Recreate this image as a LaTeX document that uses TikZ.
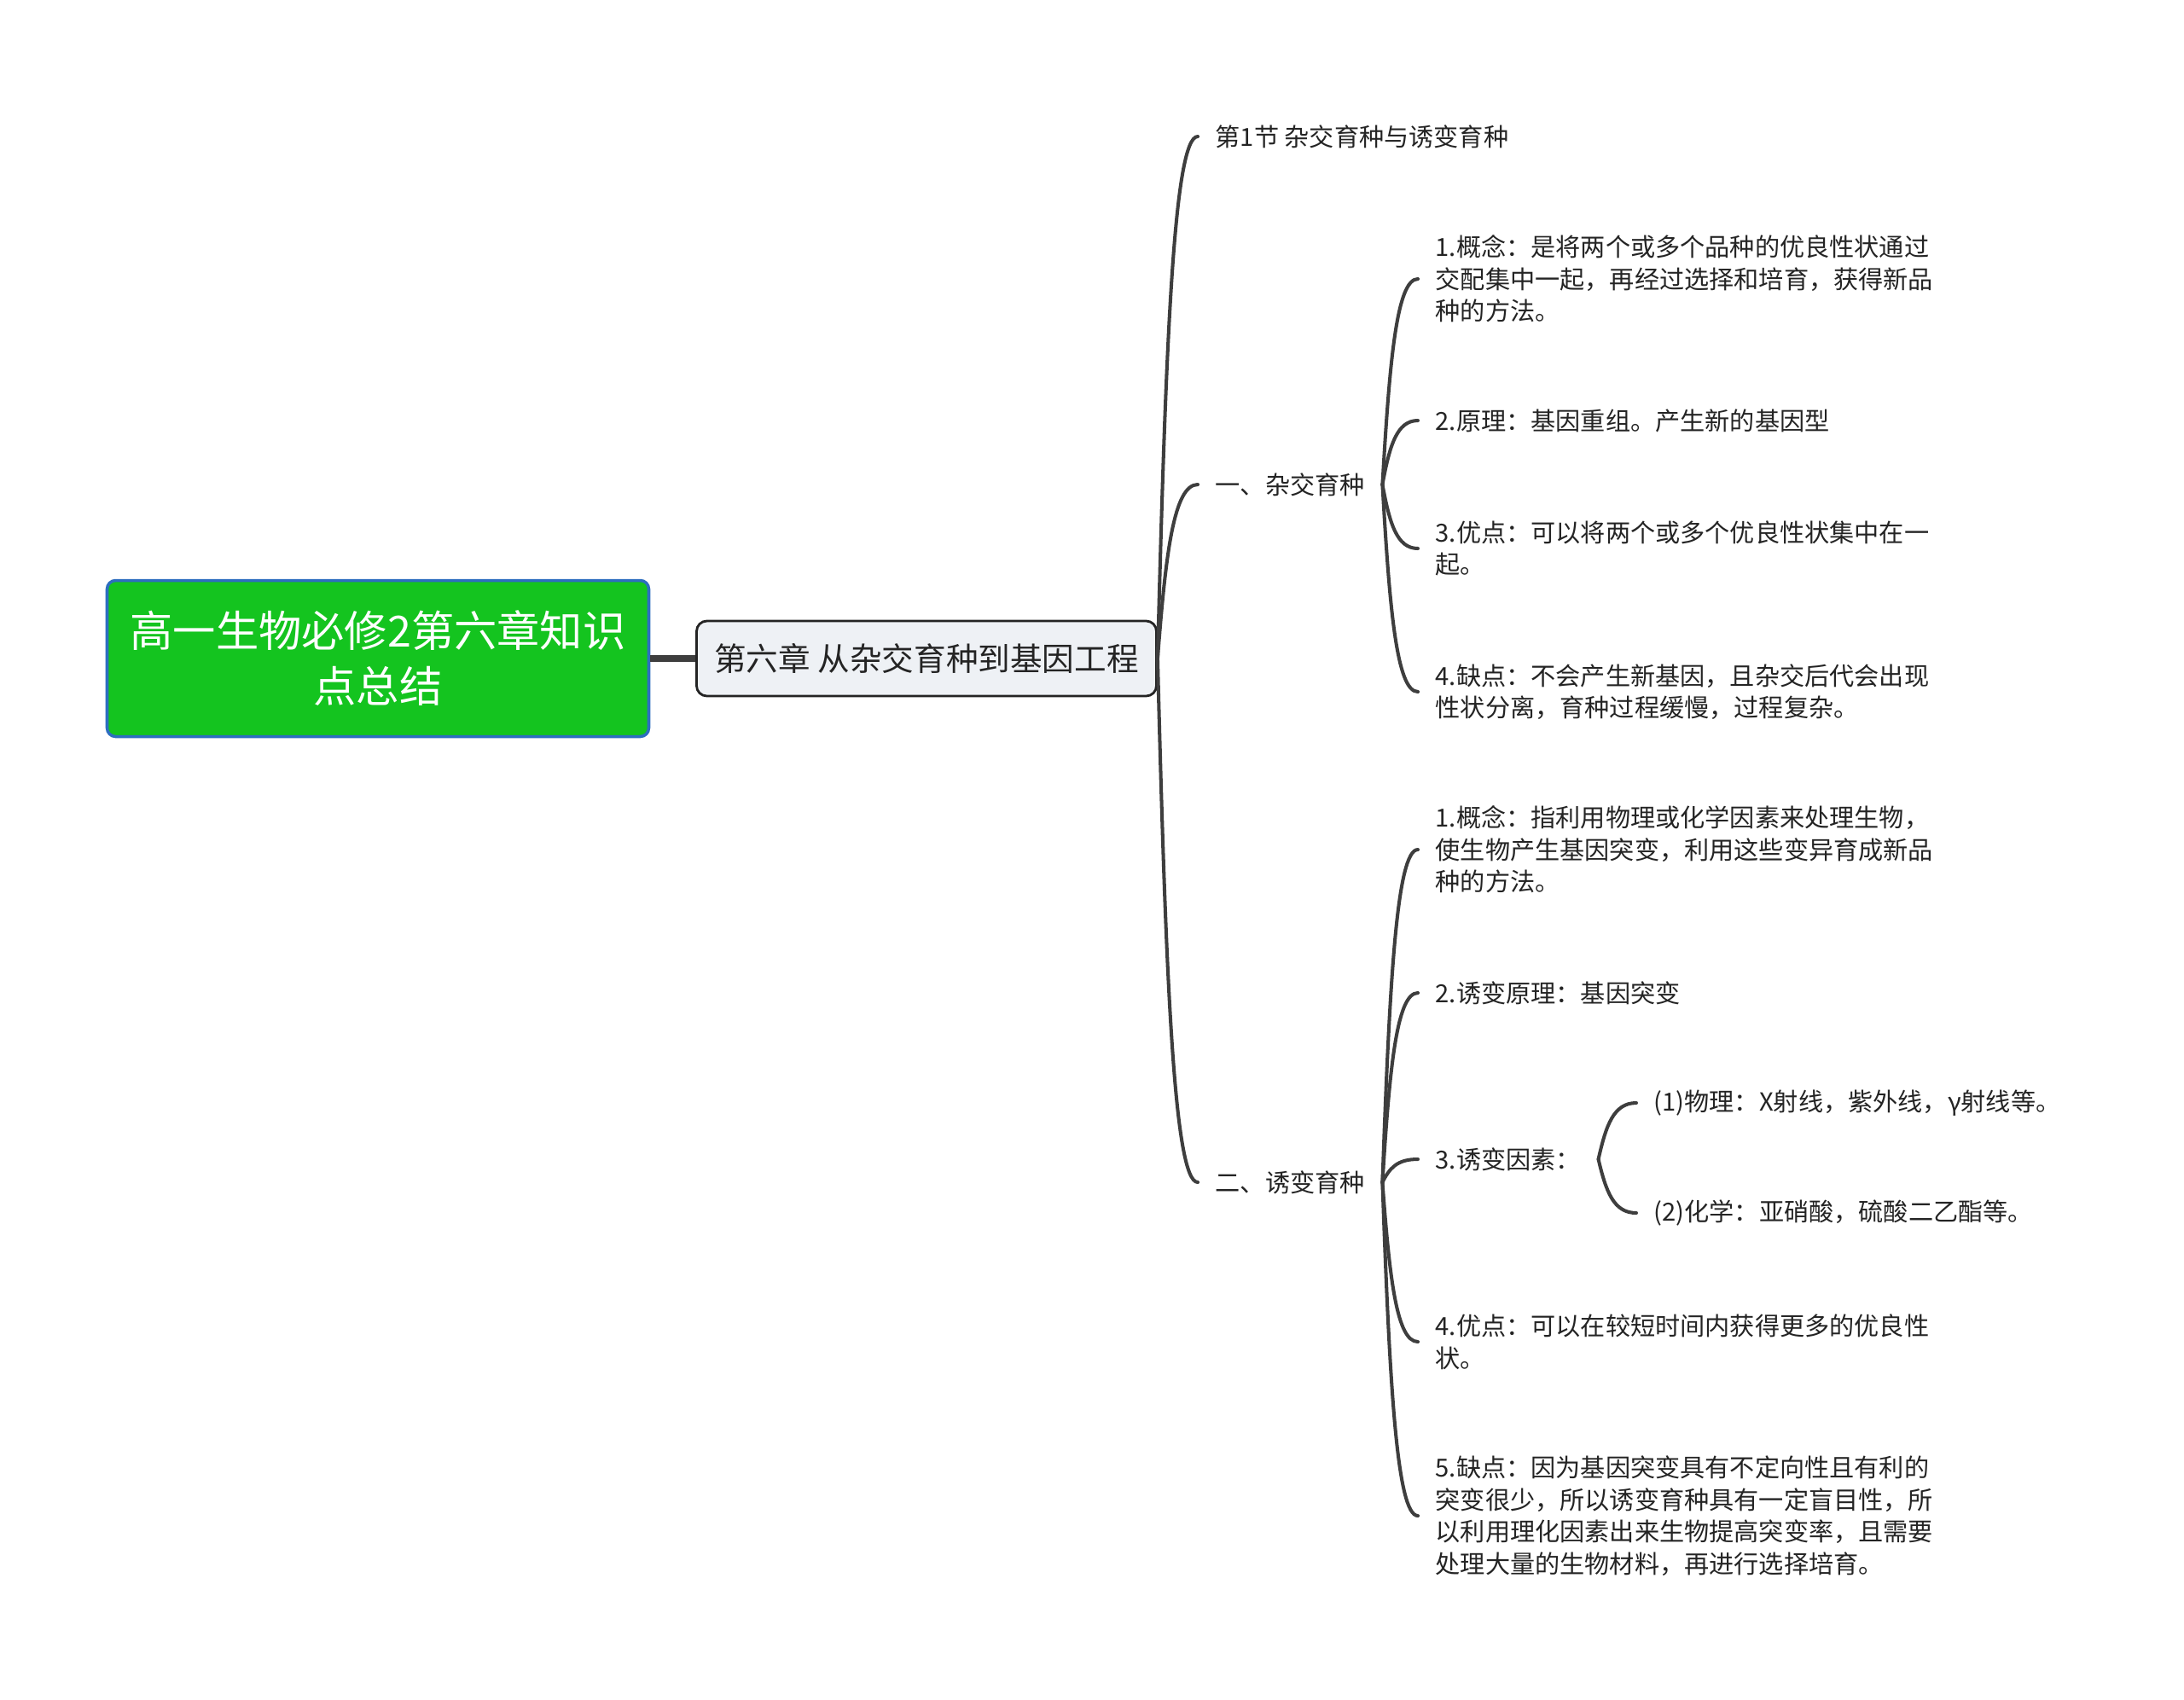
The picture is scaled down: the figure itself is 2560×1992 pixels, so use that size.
\documentclass[tikz,border=0pt]{standalone}
\usepackage{fontspec}
\setmainfont{Noto Sans CJK SC}
\usetikzlibrary{calc}
\definecolor{RootGreen}{RGB}{20,196,31}
\definecolor{RootBlue}{RGB}{45,110,192}
\definecolor{ChapFill}{RGB}{238,241,245}
\definecolor{LineGray}{RGB}{62,62,62}
\definecolor{TextDark}{RGB}{36,36,36}

\tikzset{
  rootbox/.style={draw=RootBlue, line width=1pt, fill=RootGreen, rounded corners=1mm, text=white,
    minimum width=63.5mm, minimum height=18.3mm, align=center, font=\fontsize{14.3pt}{18.5pt}\selectfont},
  chapbox/.style={draw=TextDark, line width=0.8pt, fill=ChapFill, rounded corners=1.2mm, text=TextDark,
    minimum width=53.9mm, minimum height=8.8mm, font=\fontsize{10.7pt}{13pt}\selectfont},
  topic/.style={anchor=west, inner xsep=2mm, inner ysep=0.5mm, align=left, text=TextDark,
    font=\fontsize{8.3pt}{10.7pt}\selectfont},
  branchline/.style={draw=LineGray, line width=1.15pt, line cap=round},
  trunkline/.style={draw=LineGray, line width=2.2pt}
}

% curved connector, parent to child
\newcommand{\branch}[2]{%
  \draw[branchline] let \p1=(#1), \p2=(#2) in
    (\p1) .. controls ({\x1+0.2*(\x2-\x1)},{\y1+0.6*(\y2-\y1)}) and ({\x1+0.4*(\x2-\x1)},\y2) .. (\p2);}

\begin{document}
\begin{tikzpicture}[x=0.1mm, y=-0.1mm]
  \fill[white] (0,0) rectangle (2560,1992);
  \useasboundingbox (0,0) rectangle (2560,1992);

  % main nodes
  \node[rootbox] (root) at (443,772) {高一生物必修2第六章知识\\点总结};
  \node[chapbox] (chap) at (1086,772) {第六章 从杂交育种到基因工程};

  % sections
  \node[topic] (sec1) at (1404,160) {第1节 杂交育种与诱变育种};
  \node[topic] (hyb) at (1404,568) {一、杂交育种};
  \node[topic] (mut) at (1404,1386) {二、诱变育种};

  % hybrid breeding
  \node[topic] (hyb1) at (1662,327) {1.概念：是将两个或多个品种的优良性状通过\\交配集中一起，再经过选择和培育，获得新品\\种的方法。};
  \node[topic] (hyb2) at (1662,493) {2.原理：基因重组。产生新的基因型};
  \node[topic] (hyb3) at (1662,643) {3.优点：可以将两个或多个优良性状集中在一\\起。};
  \node[topic] (hyb4) at (1662,811) {4.缺点：不会产生新基因，且杂交后代会出现\\性状分离，育种过程缓慢，过程复杂。};

  % mutation breeding
  \node[topic] (mut1) at (1662,996) {1.概念：指利用物理或化学因素来处理生物，\\使生物产生基因突变，利用这些变异育成新品\\种的方法。};
  \node[topic] (mut2) at (1662,1164) {2.诱变原理：基因突变};
  \node[topic] (mut3) at (1662,1359) {3.诱变因素：};
  \node[topic] (mut4) at (1662,1573) {4.优点：可以在较短时间内获得更多的优良性\\状。};
  \node[topic] (mut5) at (1662,1777) {5.缺点：因为基因突变具有不定向性且有利的\\突变很少，所以诱变育种具有一定盲目性，所\\以利用理化因素出来生物提高突变率，且需要\\处理大量的生物材料，再进行选择培育。};

  \node[topic] (phys) at (1918,1293) {(1)物理：X射线，紫外线，γ射线等。};
  \node[topic] (chem) at (1918,1422) {(2)化学：亚硝酸，硫酸二乙酯等。};

  % connectors
  \draw[trunkline] (root.east) -- (chap.west);
  \foreach \c in {sec1,hyb,mut} {\branch{chap.east}{\c.west}}
  \foreach \c in {hyb1,hyb2,hyb3,hyb4} {\branch{hyb.east}{\c.west}}
  \foreach \c in {mut1,mut2,mut3,mut4,mut5} {\branch{mut.east}{\c.west}}
  \foreach \c in {phys,chem} {\branch{mut3.east}{\c.west}}
\end{tikzpicture}
\end{document}
